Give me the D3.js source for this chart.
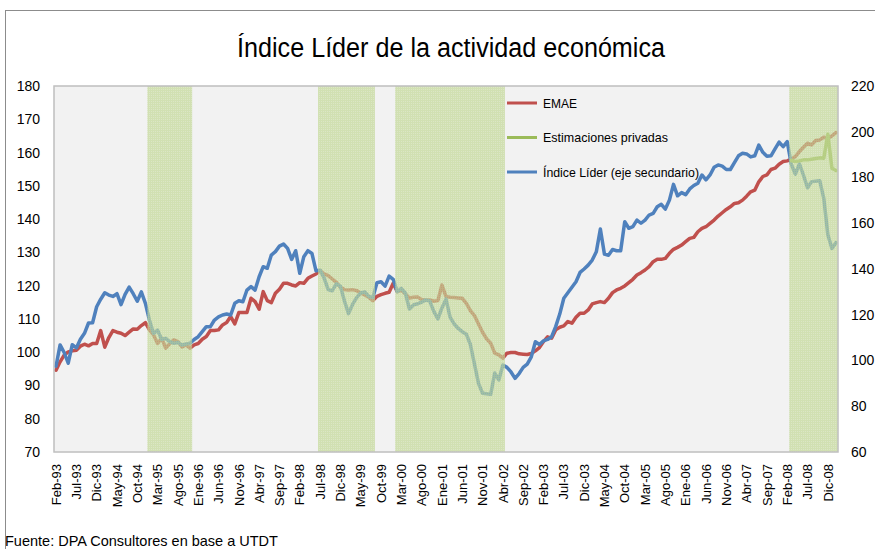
<!DOCTYPE html>
<html lang="es">
<head>
  <meta charset="UTF-8">
  <title>Índice Líder de la actividad económica</title>
  <script src="https://d3js.org/d3.v7.min.js"></script>
  <style>
    body { margin: 0; background: #fff; }
    text { font-family: "Liberation Sans", Arial, sans-serif; fill: #000; }
  </style>
</head>
<body>
  <div id="chart"></div>

  <script>
    // Meses (eje de categorias mensual, Feb-93 .. Feb-09)
    const meses = ["Ene", "Feb", "Mar", "Abr", "May", "Jun", "Jul", "Ago", "Sep", "Oct", "Nov", "Dic"];
    const categorias = [];
    for (let k = 0; k < 193; k++) {
      const m = (1 + k) % 12;
      const a = (93 + Math.floor((1 + k) / 12)) % 100;
      categorias.push(meses[m] + "-" + String(a).padStart(2, "0"));
    }

    // Etiquetas del eje X (cada 5 meses)
    const etiquetasX = ["Feb-93", "Jul-93", "Dic-93", "May-94", "Oct-94", "Mar-95", "Ago-95", "Ene-96",
      "Jun-96", "Nov-96", "Abr-97", "Sep-97", "Feb-98", "Jul-98", "Dic-98", "May-99", "Oct-99", "Mar-00",
      "Ago-00", "Ene-01", "Jun-01", "Nov-01", "Abr-02", "Sep-02", "Feb-03", "Jul-03", "Dic-03", "May-04",
      "Oct-04", "Mar-05", "Ago-05", "Ene-06", "Jun-06", "Nov-06", "Abr-07", "Sep-07", "Feb-08", "Jul-08", "Dic-08"];

    const ticksIzq = [70, 80, 90, 100, 110, 120, 130, 140, 150, 160, 170, 180];
    const ticksDer = [60, 80, 100, 120, 140, 160, 180, 200, 220];

    // EMAE (eje principal)
    const emae = [
      94.6, 97.1, 99.1, 100.1, 100.4, 100.6, 101.8, 102.4, 101.9, 102.6,
      102.6, 106.5, 101.5, 104.4, 106.5, 106.0, 105.7, 105.0, 106.0, 107.0,
      106.9, 108.0, 108.9, 106.7, 105.2, 102.6, 104.2, 101.2, 102.6, 103.7,
      103.2, 101.6, 102.2, 101.2, 102.2, 102.6, 103.9, 104.7, 106.5, 106.5,
      106.7, 108.2, 108.9, 110.7, 108.5, 111.9, 111.9, 111.9, 116.2, 115.2,
      112.9, 118.2, 115.5, 114.9, 117.7, 118.9, 120.7, 120.7, 120.2, 119.9,
      120.9, 120.7, 122.2, 122.9, 123.5, 124.5, 123.5, 123.0, 122.0, 121.0,
      119.5, 118.8, 118.7, 118.8, 118.5, 117.8, 117.2, 116.5, 115.5, 116.8,
      117.3, 117.7, 118.0, 120.7, 118.2, 118.6, 117.5, 116.3, 116.5, 116.6,
      115.8, 115.7, 115.7, 115.3, 115.5, 120.2, 116.7, 116.5, 116.4, 116.3,
      116.2, 114.7, 112.5, 111.0, 108.5, 106.0, 104.0, 102.7, 99.7, 99.2,
      98.2, 99.7, 99.9, 99.9, 99.5, 99.4, 99.3, 99.6, 100.4, 101.4,
      103.2, 104.6, 104.2, 106.7, 107.5, 107.9, 109.2, 108.7, 110.5, 111.7,
      111.7, 112.7, 114.5, 114.9, 115.2, 114.9, 116.2, 117.9, 118.7, 119.2,
      119.9, 120.9, 121.9, 123.2, 123.9, 124.7, 125.7, 127.2, 127.9, 127.9,
      128.2, 129.7, 130.9, 131.5, 132.2, 133.2, 134.2, 134.5, 136.2, 137.2,
      137.7, 138.7, 139.7, 140.9, 141.9, 142.9, 143.7, 144.7, 144.9, 145.7,
      146.9, 148.2, 148.7, 151.2, 152.8, 153.3, 154.9, 155.3, 156.5, 157.3,
      157.5, 158.0, 158.8, 160.3, 161.6, 162.8, 162.3, 163.6, 163.8, 164.6,
      164.3, 165.0, 166.0
    ];

    // Indice Lider (eje secundario)
    const indiceLider = [
      97.5, 106.8, 103.5, 98.8, 106.9, 105.5, 109.3, 111.9, 116.4, 116.5,
      123.5, 126.8, 129.6, 128.6, 128.0, 129.2, 124.4, 128.9, 132.1, 129.2,
      125.9, 130.0, 125.0, 117.6, 111.8, 113.3, 109.2, 109.7, 108.2, 107.5,
      107.9, 106.7, 107.2, 107.5, 109.2, 110.4, 112.6, 114.8, 114.8, 117.7,
      119.1, 119.9, 120.3, 119.9, 125.0, 126.1, 125.7, 130.8, 132.3, 130.8,
      136.6, 141.0, 140.3, 146.1, 147.6, 150.0, 150.9, 149.0, 144.2, 148.0,
      138.1, 145.4, 148.0, 146.8, 139.2, 139.5, 136.0, 131.0, 130.5, 133.5,
      132.5, 126.0, 120.5, 124.5, 127.5, 129.5, 130.0, 128.0, 127.5, 134.0,
      134.4, 132.5, 136.9, 135.5, 130.1, 131.5, 129.4, 122.5, 124.3, 124.8,
      125.5, 126.5, 126.0, 121.5, 118.2, 123.0, 126.8, 119.0, 116.0, 114.0,
      112.6, 111.5, 107.0, 98.5, 90.0, 85.7, 85.5, 85.2, 94.5, 91.5,
      98.0, 97.0, 95.0, 92.2, 94.3, 97.0, 98.4, 101.6, 108.2, 107.0,
      108.6, 109.2, 110.4, 114.8, 120.3, 127.2, 129.6, 132.0, 134.4, 138.5,
      140.0, 141.7, 143.9, 147.5, 157.5, 146.5, 146.0, 148.5, 148.0, 148.0,
      160.7, 157.8, 158.5, 161.4, 160.0, 161.4, 163.6, 164.3, 167.2, 168.3,
      166.2, 170.1, 177.0, 172.0, 173.4, 172.5, 175.0, 176.5, 177.5, 181.1,
      179.0, 181.1, 184.5, 185.5, 185.0, 183.5, 183.5, 186.5, 189.5, 190.6,
      190.3, 189.0, 189.5, 194.2, 191.0, 189.3, 189.5, 192.5, 195.5, 193.5,
      195.7, 185.8, 181.5, 186.0, 181.0, 175.5, 178.2, 178.4, 178.6, 170.9,
      155.0, 149.0, 151.5
    ];

    // Estimaciones privadas (eje principal), Mar-08 .. Feb-09
    const estimacionesCat = ["Mar-08", "Abr-08", "May-08", "Jun-08", "Jul-08", "Ago-08",
      "Sep-08", "Oct-08", "Nov-08", "Dic-08", "Ene-09", "Feb-09"];
    const estimaciones = [157.6, 157.3, 157.5, 157.8, 157.8, 158.0, 158.2, 158.4, 158.3, 165.5, 155.3, 154.6];

    // Periodos sombreados
    const periodos = [["Ene-95", "Nov-95"], ["Jul-98", "Ago-99"], ["Feb-00", "Abr-02"], ["Mar-08", "Feb-09"]];

    const colores = { emae: "#c0504d", estim: "#9bbb59", lider: "#4f81bd" };

    const W = 875, H = 549;
    const plot = { left: 54, right: 838, top: 86, bottom: 452 };

    const svg = d3.select("#chart").append("svg")
      .attr("width", W)
      .attr("height", H);

    // trama fina (cuadricula) de los periodos sombreados
    const defs = svg.append("defs");
    const pat = defs.append("pattern")
      .attr("id", "trama")
      .attr("width", 2)
      .attr("height", 2)
      .attr("patternUnits", "userSpaceOnUse");
    pat.append("rect").attr("x", 0).attr("y", 0).attr("width", 2).attr("height", 1)
      .attr("fill", "#bcd28f").attr("fill-opacity", 0.35);
    pat.append("rect").attr("x", 0).attr("y", 1).attr("width", 1).attr("height", 1)
      .attr("fill", "#bcd28f").attr("fill-opacity", 0.35);

    // marco exterior
    svg.append("rect")
      .attr("x", 5.5).attr("y", 10.5)
      .attr("width", 900).attr("height", 600)
      .attr("fill", "none")
      .attr("stroke", "#8c8c8c");

    // titulo
    svg.append("text")
      .attr("x", 451).attr("y", 57)
      .attr("text-anchor", "middle")
      .attr("font-size", 27)
      .attr("textLength", 428)
      .attr("lengthAdjust", "spacingAndGlyphs")
      .text("Índice Líder de la actividad económica");

    const x = d3.scaleBand()
      .domain(categorias)
      .range([plot.left, plot.right])
      .padding(0);
    const bw = x.bandwidth();

    const yIzq = d3.scaleLinear().domain([70, 180]).range([plot.bottom, plot.top]);
    const yDer = d3.scaleLinear().domain([60, 220]).range([plot.bottom, plot.top]);

    // fondo del area de trazado
    svg.append("rect")
      .attr("x", plot.left).attr("y", plot.top)
      .attr("width", plot.right - plot.left)
      .attr("height", plot.bottom - plot.top)
      .attr("fill", "#f2f2f2");

    const cx = (c) => x(c) + bw / 2;

    const lineaIzq = d3.line()
      .x((d, i) => cx(categorias[i]))
      .y((d) => yIzq(d));
    const lineaDer = d3.line()
      .x((d, i) => cx(categorias[i]))
      .y((d) => yDer(d));
    const lineaEst = d3.line()
      .x((d, i) => cx(estimacionesCat[i]))
      .y((d) => yIzq(d));

    const estilo = (sel, color) => sel
      .attr("fill", "none")
      .attr("stroke", color)
      .attr("stroke-width", 3.5)
      .attr("stroke-linejoin", "round")
      .attr("stroke-linecap", "round");

    svg.append("path").datum(emae).attr("d", lineaIzq).call(estilo, colores.emae);
    svg.append("path").datum(indiceLider).attr("d", lineaDer).call(estilo, colores.lider);
    svg.append("path").datum(estimaciones).attr("d", lineaEst).call(estilo, colores.estim);

    // sombreado de periodos: velo verde + trama
    const sombra = svg.selectAll("g.periodo")
      .data(periodos)
      .enter()
      .append("g")
      .attr("class", "periodo");
    sombra.append("rect")
      .attr("x", (d) => x(d[0]))
      .attr("y", plot.top)
      .attr("width", (d) => x(d[1]) + bw - x(d[0]))
      .attr("height", plot.bottom - plot.top)
      .attr("fill", "#c8dca0")
      .attr("fill-opacity", 0.55);
    sombra.append("rect")
      .attr("x", (d) => x(d[0]))
      .attr("y", plot.top)
      .attr("width", (d) => x(d[1]) + bw - x(d[0]))
      .attr("height", plot.bottom - plot.top)
      .attr("fill", "url(#trama)");

    // borde del area de trazado
    svg.append("rect")
      .attr("x", plot.left).attr("y", plot.top)
      .attr("width", plot.right - plot.left)
      .attr("height", plot.bottom - plot.top)
      .attr("fill", "none")
      .attr("stroke", "#bfbfbf")
      .attr("stroke-width", 1.5);

    // ejes
    const ejeIzq = svg.append("g")
      .attr("transform", `translate(${plot.left},0)`)
      .call(d3.axisLeft(yIzq).tickValues(ticksIzq).tickSize(0).tickPadding(14));
    const ejeDer = svg.append("g")
      .attr("transform", `translate(${plot.right},0)`)
      .call(d3.axisRight(yDer).tickValues(ticksDer).tickSize(0).tickPadding(13));
    [ejeIzq, ejeDer].forEach((g) => {
      g.select(".domain").remove();
      g.selectAll("text").attr("font-size", 14).attr("font-family", null);
    });

    const ejeX = svg.append("g")
      .attr("transform", `translate(0,${plot.bottom})`)
      .call(d3.axisBottom(x).tickValues(etiquetasX).tickSize(0));
    ejeX.select(".domain").remove();
    ejeX.selectAll("text")
      .attr("font-size", 13)
      .attr("font-family", null)
      .attr("transform", "rotate(-90)")
      .attr("x", -12)
      .attr("y", 0)
      .attr("dy", "0.36em")
      .style("text-anchor", "end");

    // leyenda
    const leyenda = [
      { nombre: "EMAE", color: colores.emae, largo: 34 },
      { nombre: "Estimaciones privadas", color: colores.estim, largo: 125 },
      { nombre: "Índice Líder (eje secundario)", color: colores.lider, largo: 156 }
    ];
    const filas = svg.selectAll("g.ley")
      .data(leyenda)
      .enter()
      .append("g")
      .attr("class", "ley")
      .attr("transform", (d, i) => `translate(507,${103 + i * 34.5})`);
    filas.append("line")
      .attr("x1", 0).attr("x2", 30)
      .attr("stroke", (d) => d.color)
      .attr("stroke-width", 3);
    filas.append("text")
      .attr("x", 36)
      .attr("dy", "0.36em")
      .attr("font-size", 13)
      .attr("textLength", (d) => d.largo)
      .attr("lengthAdjust", "spacingAndGlyphs")
      .text((d) => d.nombre);

    // fuente
    svg.append("text")
      .attr("x", 5).attr("y", 546)
      .attr("font-size", 14.5)
      .text("Fuente: DPA Consultores en base a UTDT");
  </script>
</body>
</html>
